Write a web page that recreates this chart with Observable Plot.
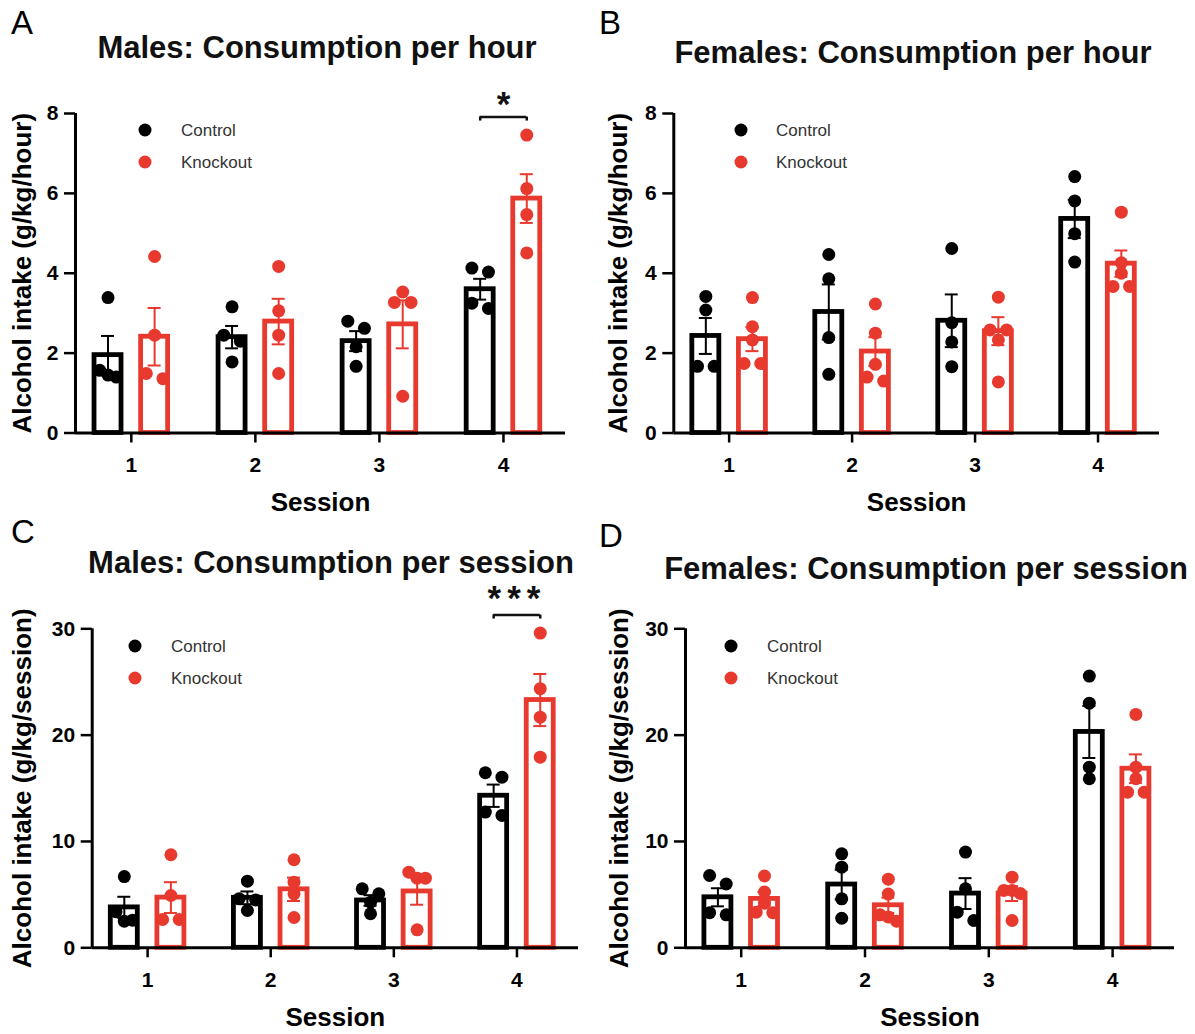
<!DOCTYPE html>
<html>
<head>
<meta charset="utf-8">
<script src="https://cdn.jsdelivr.net/npm/d3@7"></script>
<script src="https://cdn.jsdelivr.net/npm/@observablehq/plot@0.6"></script>
<style>
  body { margin: 0; background: #fff; }
  #fig { position: relative; width: 1195px; height: 1034px; background: #fff; overflow: hidden; }
  .panel { position: absolute; }
  #overlay { position: absolute; left: 0; top: 0; pointer-events: none; }
</style>
</head>
<body>
<div id="fig"></div>
<script>
// ---------------- DATA ----------------
const sessions = [1, 2, 3, 4];
const groups = ["Control", "Knockout"];
const yTicksHour = [0, 2, 4, 6, 8];
const yTicksSession = [0, 10, 20, 30];

// A: Males, consumption per hour (g/kg/hour)
const maleHourControlPoints = [[3.39, 1.57, 1.45, 1.40], [3.16, 2.45, 2.30, 1.78], [2.80, 2.62, 2.16, 1.67], [4.13, 4.03, 3.25, 3.12]];
const maleHourControlMean = [1.95, 2.40, 2.30, 3.60];
const maleHourControlSEM = [0.48, 0.28, 0.25, 0.26];
const maleHourKnockoutPoints = [[4.42, 2.45, 1.49, 1.36], [4.17, 3.06, 2.45, 1.49], [3.53, 3.27, 3.27, 0.92], [7.46, 6.12, 5.47, 4.51]];
const maleHourKnockoutMean = [2.41, 2.79, 2.72, 5.87];
const maleHourKnockoutSEM = [0.72, 0.57, 0.60, 0.61];

// B: Females, consumption per hour (g/kg/hour)
const femaleHourControlPoints = [[3.42, 3.08, 1.67, 1.67], [4.47, 3.86, 2.39, 1.47], [4.62, 2.76, 2.28, 1.66], [6.42, 5.81, 4.99, 4.28]];
const femaleHourControlMean = [2.43, 3.03, 2.81, 5.36];
const femaleHourControlSEM = [0.45, 0.69, 0.66, 0.48];
const femaleHourKnockoutPoints = [[3.39, 2.66, 2.33, 1.74, 1.74], [3.23, 2.50, 1.72, 1.40, 1.30], [3.40, 2.58, 2.58, 2.33, 1.28], [5.53, 4.26, 4.00, 3.67, 3.67]];
const femaleHourKnockoutMean = [2.35, 2.04, 2.55, 4.24];
const femaleHourKnockoutSEM = [0.30, 0.36, 0.35, 0.33];

// C: Males, consumption per session (g/kg/session)
const maleSessionControlPoints = [[6.7, 3.4, 2.6, 2.5], [6.27, 4.61, 4.5, 3.51], [5.55, 5.08, 4.29, 3.2], [16.46, 16.05, 12.76, 12.45]];
const maleSessionControlMean = [3.8, 4.7, 4.45, 14.3];
const maleSessionControlSEM = [1.0, 0.6, 0.5, 1.05];
const maleSessionKnockoutPoints = [[8.75, 4.92, 2.66, 2.66], [8.28, 6.17, 5.08, 2.85], [7.11, 6.55, 6.55, 1.69], [29.6, 24.37, 21.69, 17.93]];
const maleSessionKnockoutMean = [4.72, 5.5, 5.3, 23.3];
const maleSessionKnockoutSEM = [1.45, 1.1, 1.25, 2.45];

// D: Females, consumption per session (g/kg/session)
const femaleSessionControlPoints = [[6.8, 6.0, 3.3, 3.1], [8.84, 7.58, 4.61, 2.78], [9.0, 5.55, 3.35, 2.57], [25.55, 23.01, 16.99, 15.9]];
const femaleSessionControlMean = [4.75, 5.95, 5.1, 20.3];
const femaleSessionControlSEM = [0.85, 1.4, 1.45, 2.45];
const femaleSessionKnockoutPoints = [[6.75, 5.25, 4.2, 3.35, 3.3], [6.45, 5.05, 3.1, 2.9, 2.5], [6.64, 5.4, 5.4, 5.1, 2.57], [21.95, 16.99, 15.9, 14.64, 14.64]];
const femaleSessionKnockoutMean = [4.6, 4.0, 5.1, 16.84];
const femaleSessionKnockoutSEM = [0.65, 0.72, 0.7, 1.35];

// significance annotations (session, label)
const maleHourSignificance = [{session: 4, label: "*"}];
const maleSessionSignificance = [{session: 4, label: "***"}];

const panelTitles = ["Males: Consumption per hour", "Females: Consumption per hour", "Males: Consumption per session", "Females: Consumption per session"];
const panelLetters = ["A", "B", "C", "D"];
const yLabels = ["Alcohol intake (g/kg/hour)", "Alcohol intake (g/kg/hour)", "Alcohol intake (g/kg/session)", "Alcohol intake (g/kg/session)"];
const xLabel = "Session";

// ---------------- STYLE / LAYOUT ----------------
const RED = "#e8392e";
const FONT = "'Liberation Sans', Arial, Helvetica, sans-serif";
const xDomain = [0.55, 4.5];

function swarm(values, yUnit) {
  const sorted = values.slice().sort((a, b) => b - a);
  const rows = [];
  for (const v of sorted) {
    const row = rows[rows.length - 1];
    if (row && (row[0] - v) * yUnit < 9) row.push(v); else rows.push([v]);
  }
  const out = [];
  for (const row of rows) {
    const k = row.length;
    row.forEach((v, j) => out.push({value: v, dxPx: k === 1 ? 0 : (j - (k - 1) / 2) * (16.6 / (k - 1))}));
  }
  return out;
}

function buildPanel(o) {
  const W = o.width, H = o.height;
  const xUnit = (W - o.ml - o.mr) / (xDomain[1] - xDomain[0]);
  const yUnit = (H - o.mt - o.mb) / o.ymax;
  const off = 23.3 / xUnit, hw = 13.5 / xUnit, cap = 6.5 / xUnit;
  const bars = [], pts = [], caps = [];
  sessions.forEach((s, i) => {
    groups.forEach((g, gi) => {
      const xc = s + (gi === 0 ? -off : off);
      const mean = gi === 0 ? o.cMean[i] : o.kMean[i];
      const sem = gi === 0 ? o.cSem[i] : o.kSem[i];
      bars.push({session: s, group: g, xc, mean, sem});
      caps.push({group: g, xc, y: mean + sem}, {group: g, xc, y: mean - sem});
      const vals = gi === 0 ? o.cPts[i] : o.kPts[i];
      swarm(vals, yUnit).forEach(p => pts.push({session: s, group: g, value: p.value, x: xc + p.dxPx / xUnit}));
    });
  });

  const sigMarks = [];
  (o.sig || []).forEach(sg => {
    const idx = sessions.indexOf(sg.session);
    const top = Math.max(...o.cPts[idx], ...o.kPts[idx]);
    const by = top + 18 / yUnit;
    const tick = 4 / yUnit;
    const ends = [sg.session - off, sg.session + off];
    sigMarks.push(
      Plot.ruleY([by], {x1: ends[0], x2: ends[1], strokeWidth: 2.5, stroke: "#111"}),
      Plot.ruleX(ends, {x: d => d, y1: by - tick, y2: by, strokeWidth: 2.5, stroke: "#111"}),
      Plot.text([sg.label], {x: sg.session, y: by, dy: sg.label.length > 1 ? -16 : -12, text: d => d, fontSize: 35, fontWeight: "bold", fill: "#111", lineAnchor: "middle"})
    );
  });

  const plot = Plot.plot({
    width: W, height: H,
    marginLeft: o.ml, marginRight: o.mr, marginTop: o.mt, marginBottom: o.mb,
    x: {type: "linear", domain: xDomain},
    y: {domain: [0, o.ymax]},
    color: {domain: groups, range: ["#000000", RED]},
    style: {fontFamily: FONT, fontWeight: "bold", fontSize: "21px", color: "#000", background: "transparent", overflow: "visible"},
    marks: [
      Plot.rectY(bars, {x1: d => d.xc - hw, x2: d => d.xc + hw, y1: 0, y2: "mean", fill: "white", stroke: "group", strokeWidth: 4.8}),
      Plot.ruleX(bars, {x: "xc", y1: d => d.mean - d.sem, y2: d => d.mean + d.sem, stroke: "group", strokeWidth: 2}),
      Plot.ruleY(caps, {y: "y", x1: d => d.xc - cap, x2: d => d.xc + cap, stroke: "group", strokeWidth: 2}),
      Plot.dot(pts, {x: "x", y: "value", fill: "group", r: 6.5}),
      Plot.ruleY([0], {strokeWidth: 3}),
      Plot.ruleX([xDomain[0]], {y1: 0, y2: o.ymax, strokeWidth: 3}),
      Plot.axisY({ticks: o.yticks, tickSize: 11, tickPadding: 6, strokeWidth: 2.5, fontSize: 21, fontWeight: "bold", label: null}),
      Plot.axisX({ticks: sessions, tickFormat: "d", tickSize: 10, tickPadding: 14, strokeWidth: 2.5, fontSize: 21, fontWeight: "bold", label: null}),
      Plot.text([xLabel], {frameAnchor: "bottom", dy: 70, text: d => d, fontSize: 26, fontWeight: "bold", lineAnchor: "middle"}),
      Plot.text([o.yLabel], {frameAnchor: "left", dx: o.yLabelDx, rotate: -90, text: d => d, textAnchor: "middle", fontSize: 26, fontWeight: "bold", lineAnchor: "middle"}),
      ...sigMarks
    ]
  });
  d3.select(plot).selectAll("text").filter(function () { return this.textContent === "***"; }).attr("letter-spacing", "6px");
  const div = document.createElement("div");
  div.className = "panel";
  div.style.left = o.left + "px";
  div.style.top = o.top + "px";
  div.appendChild(plot);
  document.getElementById("fig").appendChild(div);
}

const panels = [
  {left: 0, top: 0, width: 595, height: 520, ml: 75, mr: 30, mt: 113, mb: 87.5, ymax: 8, yticks: yTicksHour, yLabelDx: -53,
   cPts: maleHourControlPoints, cMean: maleHourControlMean, cSem: maleHourControlSEM,
   kPts: maleHourKnockoutPoints, kMean: maleHourKnockoutMean, kSem: maleHourKnockoutSEM, sig: maleHourSignificance, yLabel: yLabels[0]},
  {left: 595, top: 0, width: 600, height: 520, ml: 78.3, mr: 36, mt: 113, mb: 87.5, ymax: 8, yticks: yTicksHour, yLabelDx: -55,
   cPts: femaleHourControlPoints, cMean: femaleHourControlMean, cSem: femaleHourControlSEM,
   kPts: femaleHourKnockoutPoints, kMean: femaleHourKnockoutMean, kSem: femaleHourKnockoutSEM, sig: [], yLabel: yLabels[1]},
  {left: 0, top: 520, width: 595, height: 514, ml: 91.7, mr: 17, mt: 108.3, mb: 86.7, ymax: 30, yticks: yTicksSession, yLabelDx: -70,
   cPts: maleSessionControlPoints, cMean: maleSessionControlMean, cSem: maleSessionControlSEM,
   kPts: maleSessionKnockoutPoints, kMean: maleSessionKnockoutMean, kSem: maleSessionKnockoutSEM, sig: maleSessionSignificance, yLabel: yLabels[2]},
  {left: 595, top: 520, width: 600, height: 514, ml: 90, mr: 21, mt: 108.3, mb: 86.7, ymax: 30, yticks: yTicksSession, yLabelDx: -66,
   cPts: femaleSessionControlPoints, cMean: femaleSessionControlMean, cSem: femaleSessionControlSEM,
   kPts: femaleSessionKnockoutPoints, kMean: femaleSessionKnockoutMean, kSem: femaleSessionKnockoutSEM, sig: [], yLabel: yLabels[3]}
];
panels.forEach(buildPanel);

// ---------------- Titles, panel letters, legends ----------------
const overlay = d3.select("#fig").append("svg").attr("id", "overlay")
  .attr("width", 1195).attr("height", 1034).style("font-family", FONT);
const titlePos = [[317, 58], [913, 63], [331, 573], [926, 579]];
const letterPos = [[11, 34], [599, 34], [11, 543], [599, 547]];
const legendPos = [[145, 130, 181], [741, 130, 776], [135, 646, 171], [731, 646, 767]];
panelTitles.forEach((t, i) => {
  overlay.append("text").attr("x", titlePos[i][0]).attr("y", titlePos[i][1])
    .attr("text-anchor", "middle").attr("font-size", 31).attr("font-weight", "bold").attr("fill", "#111").text(t);
  overlay.append("text").attr("x", letterPos[i][0]).attr("y", letterPos[i][1])
    .attr("font-size", 33).attr("fill", "#000").text(panelLetters[i]);
  const [cx, cy, tx] = legendPos[i];
  groups.forEach((g, gi) => {
    const y = cy + gi * 32;
    overlay.append("circle").attr("cx", cx).attr("cy", y).attr("r", 6.5).attr("fill", gi === 0 ? "#000" : RED);
    overlay.append("text").attr("x", tx).attr("y", y + 6).attr("font-size", 17).attr("fill", "#333").text(g);
  });
});
</script>
</body>
</html>
